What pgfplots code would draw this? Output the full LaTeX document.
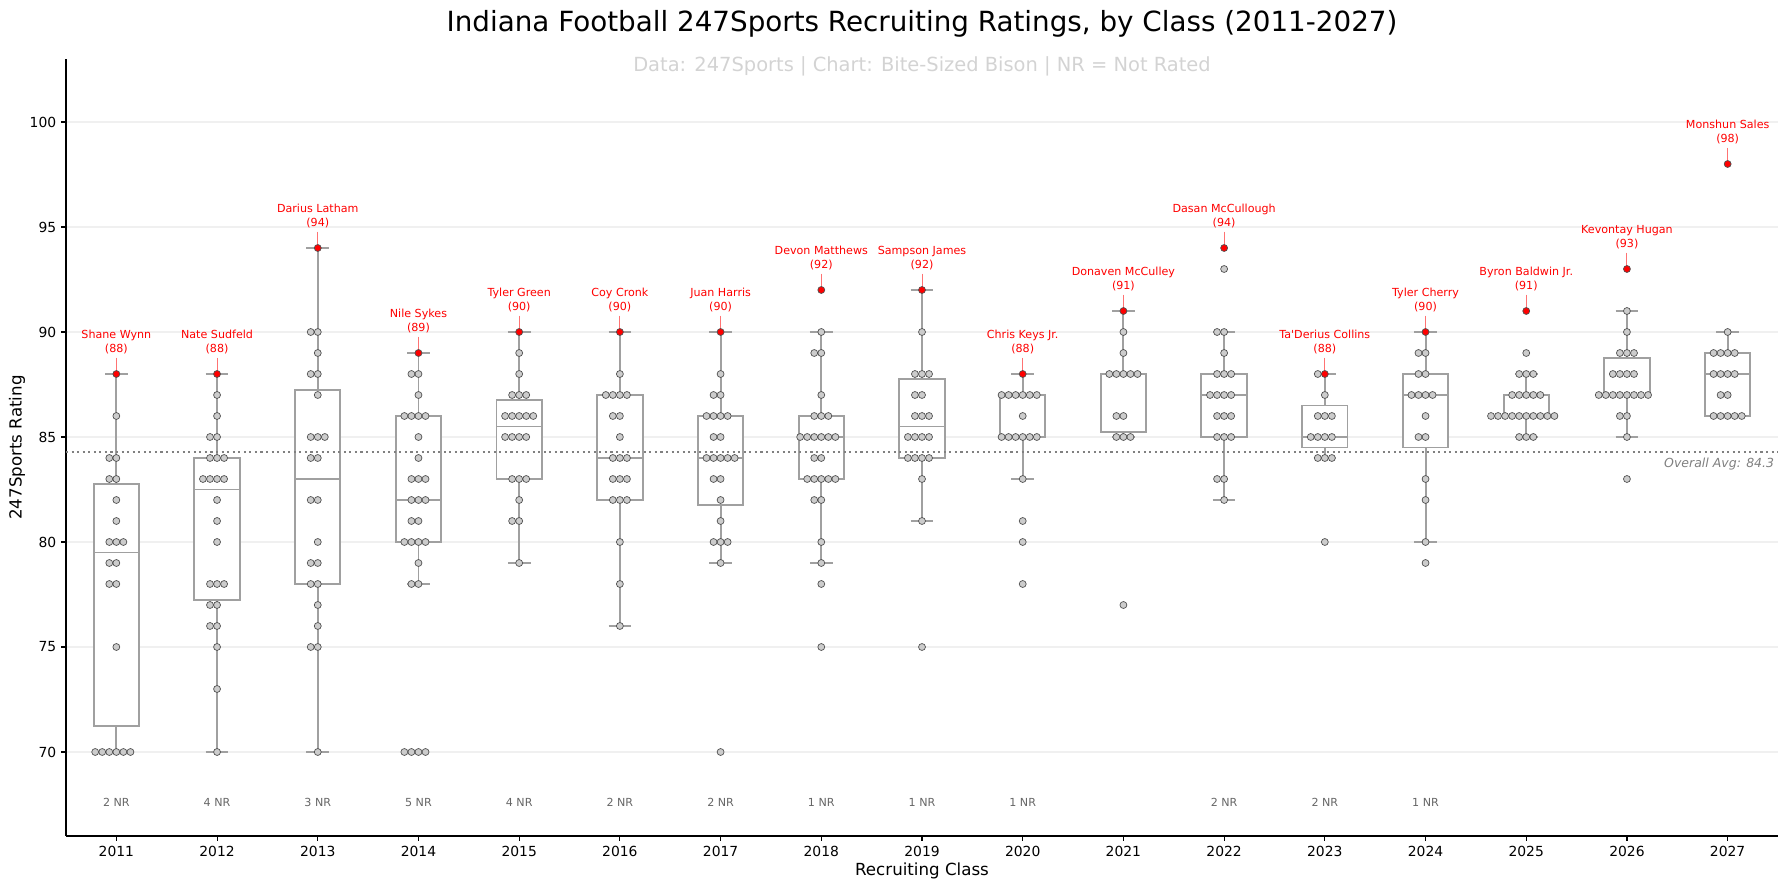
\documentclass[border=0pt]{standalone}
\usepackage{fontspec}
\setmainfont{DejaVu Sans}
\usepackage{pgfplots}
\pgfplotsset{compat=1.18}
\definecolor{boxgray}{HTML}{A0A0A0}
\definecolor{ptfill}{HTML}{CCCCCC}
\definecolor{ptedge}{HTML}{505050}
\definecolor{gridc}{HTML}{F0F0F0}
\definecolor{avgc}{HTML}{808080}
\definecolor{subc}{HTML}{D3D3D3}
\definecolor{nrc}{HTML}{666666}
% box: left, right, Q1, Q3
\newcommand{\boxr}[4]{\addplot[draw=boxgray, fill=white, line width=1.4pt, line join=miter] coordinates {(#1,#3) (#2,#3) (#2,#4) (#1,#4)} -- cycle;}
% median: left, right, median
\newcommand{\medl}[3]{\addplot[draw=boxgray, line width=1.4pt] coordinates {(#1,#3) (#2,#3)};}
% whiskers: x, cap left, cap right, lower whisker, Q1, Q3, upper whisker
\newcommand{\whisk}[7]{\addplot[draw=boxgray, line width=1.4pt, unbounded coords=jump] coordinates {(#1,#6) (#1,#7) (#1,nan) (#2,#7) (#3,#7) (#1,nan) (#1,#4) (#1,#5) (#1,nan) (#2,#4) (#3,#4)};}
\begin{document}
\begin{tikzpicture}
\useasboundingbox (-47.52pt,-38.16pt) rectangle (1240.56pt,601.92pt);
\begin{axis}[
 at={(0,0)}, anchor=south west,
 width=1232.64pt, height=559.44pt, scale only axis,
 xmin=-0.5, xmax=16.5, ymin=66, ymax=103,
 axis x line*=bottom, axis y line*=left,
 axis line style={line width=0.8pt, black},
 xtick={0,...,16},
 xticklabels={2011,2012,2013,2014,2015,2016,2017,2018,2019,2020,2021,2022,2023,2024,2025,2026,2027},
 ytick={70,75,80,85,90,95,100},
 tick align=outside, major tick length=3.5pt,
 tick style={line width=0.8pt, black},
 ymajorgrids, grid style={gridc, line width=0.8pt},
 tick label style={font=\fontsize{10}{12}\selectfont},
 /pgf/number format/assume math mode=true,
 xlabel={Recruiting Class}, ylabel={247Sports Rating},
 every axis x label/.style={at={(axis description cs:0.5,-0.045)}, anchor=center, font=\fontsize{12}{14.4}\selectfont},
 every axis y label/.style={at={(axis description cs:-0.0286,0.5)}, rotate=90, anchor=center, font=\fontsize{12}{14.4}\selectfont},
 clip=false,
]
% boxes
\boxr{-0.225}{0.225}{71.25}{82.75} \medl{-0.225}{0.225}{79.5} \whisk{0}{-0.1125}{0.1125}{70}{71.25}{82.75}{88}
\boxr{0.775}{1.225}{77.25}{84} \medl{0.775}{1.225}{82.5} \whisk{1}{0.8875}{1.1125}{70}{77.25}{84}{88}
\boxr{1.775}{2.225}{78}{87.25} \medl{1.775}{2.225}{83} \whisk{2}{1.8875}{2.1125}{70}{78}{87.25}{94}
\boxr{2.775}{3.225}{80}{86} \medl{2.775}{3.225}{82} \whisk{3}{2.8875}{3.1125}{78}{80}{86}{89}
\boxr{3.775}{4.225}{83}{86.75} \medl{3.775}{4.225}{85.5} \whisk{4}{3.8875}{4.1125}{79}{83}{86.75}{90}
\boxr{4.775}{5.225}{82}{87} \medl{4.775}{5.225}{84} \whisk{5}{4.8875}{5.1125}{76}{82}{87}{90}
\boxr{5.775}{6.225}{81.75}{86} \medl{5.775}{6.225}{84} \whisk{6}{5.8875}{6.1125}{79}{81.75}{86}{90}
\boxr{6.775}{7.225}{83}{86} \medl{6.775}{7.225}{85} \whisk{7}{6.8875}{7.1125}{79}{83}{86}{90}
\boxr{7.775}{8.225}{84}{87.75} \medl{7.775}{8.225}{85.5} \whisk{8}{7.8875}{8.1125}{81}{84}{87.75}{92}
\boxr{8.775}{9.225}{85}{87} \medl{8.775}{9.225}{85} \whisk{9}{8.8875}{9.1125}{83}{85}{87}{88}
\boxr{9.775}{10.225}{85.25}{88} \medl{9.775}{10.225}{88} \whisk{10}{9.8875}{10.1125}{85}{85.25}{88}{91}
\boxr{10.775}{11.225}{85}{88} \medl{10.775}{11.225}{87} \whisk{11}{10.8875}{11.1125}{82}{85}{88}{90}
\boxr{11.775}{12.225}{84.5}{86.5} \medl{11.775}{12.225}{85} \whisk{12}{11.8875}{12.1125}{84}{84.5}{86.5}{88}
\boxr{12.775}{13.225}{84.5}{88} \medl{12.775}{13.225}{87} \whisk{13}{12.8875}{13.1125}{80}{84.5}{88}{90}
\boxr{13.775}{14.225}{86}{87} \medl{13.775}{14.225}{86} \whisk{14}{13.8875}{14.1125}{85}{86}{87}{88}
\boxr{14.775}{15.225}{87}{88.75} \medl{14.775}{15.225}{87} \whisk{15}{14.8875}{15.1125}{85}{87}{88.75}{91}
\boxr{15.775}{16.225}{86}{89} \medl{15.775}{16.225}{88} \whisk{16}{15.8875}{16.1125}{86}{86}{89}{90}
% overall average
\addplot[avgc, line width=1.5pt, dash pattern=on 1.5pt off 2.5pt] coordinates {(-0.5,84.3) (16.5,84.3)};
% swarm points
\addplot[only marks, mark=*, mark size=2.5pt, mark options={fill=ptfill, draw=ptedge, line width=0.5pt}] coordinates {
(0,86) (0,84) (-0.07,84) (0,83) (-0.07,83) (0,82) (0,81) (0,80) (-0.07,80) (0.07,80) (0,79) (-0.07,79) (0,78) (-0.07,78) (0,75)
(0,70) (-0.07,70) (0.07,70) (-0.14,70) (0.14,70) (-0.21,70)
(1,87) (1,86) (1,85) (0.93,85) (1,84) (0.93,84) (1.07,84) (1,83) (0.93,83) (1.07,83) (0.86,83) (1,82) (1,81) (1,80)
(1,78) (0.93,78) (1.07,78) (1,77) (0.93,77) (1,76) (0.93,76) (1,75) (1,73) (1,70)
(2,90) (1.93,90) (2,89) (2,88) (1.93,88) (2,87) (2,85) (1.93,85) (2.07,85) (2,84) (1.93,84) (2,82) (1.93,82) (2,80)
(2,79) (1.93,79) (2,78) (1.93,78) (2,77) (2,76) (2,75) (1.93,75) (2,70)
(3,88) (2.93,88) (3,87) (3,86) (2.93,86) (3.07,86) (2.86,86) (3,85) (3,84) (3,83) (2.93,83) (3.07,83)
(3,82) (2.93,82) (3.07,82) (3,81) (2.93,81) (3,80) (2.93,80) (3.07,80) (2.86,80) (3,79) (3,78) (2.93,78)
(3,70) (2.93,70) (3.07,70) (2.86,70)
(4,89) (4,88) (4,87) (3.93,87) (4.07,87) (4,86) (3.93,86) (4.07,86) (3.86,86) (4.14,86) (4,85) (3.93,85) (4.07,85) (3.86,85)
(4,83) (3.93,83) (4.07,83) (4,82) (4,81) (3.93,81) (4,79)
(5,88) (5,87) (4.93,87) (5.07,87) (4.86,87) (5,86) (4.93,86) (5,85) (5,84) (4.93,84) (5.07,84) (5,83) (4.93,83) (5.07,83)
(5,82) (4.93,82) (5.07,82) (5,80) (5,78) (5,76)
(6,88) (6,87) (5.93,87) (6,86) (5.93,86) (6.07,86) (5.86,86) (6,85) (5.93,85) (6,84) (5.93,84) (6.07,84) (5.86,84) (6.14,84)
(6,83) (5.93,83) (6,82) (6,81) (6,80) (5.93,80) (6.07,80) (6,79) (6,70)
(7,90) (7,89) (6.93,89) (7,87) (7,86) (6.93,86) (7.07,86) (7,85) (6.93,85) (7.07,85) (6.86,85) (7.14,85) (6.79,85)
(7,84) (6.93,84) (7,83) (6.93,83) (7.07,83) (6.86,83) (7.14,83) (7,82) (6.93,82) (7,80) (7,79) (7,78) (7,75)
(8,90) (8,88) (7.93,88) (8.07,88) (8,87) (7.93,87) (8,86) (7.93,86) (8.07,86) (8,85) (7.93,85) (8.07,85) (7.86,85)
(8,84) (7.93,84) (8.07,84) (7.86,84) (8,83) (8,81) (8,75)
(9,87) (8.93,87) (9.07,87) (8.86,87) (9.14,87) (8.79,87) (9,86) (9,85) (8.93,85) (9.07,85) (8.86,85) (9.14,85) (8.79,85)
(9,83) (9,81) (9,80) (9,78)
(10,90) (10,89) (10,88) (9.93,88) (10.07,88) (9.86,88) (10.14,88) (10,86) (9.93,86) (10,85) (9.93,85) (10.07,85) (10,77)
(11,93) (11,90) (10.93,90) (11,89) (11,88) (10.93,88) (11.07,88) (11,87) (10.93,87) (11.07,87) (10.86,87)
(11,86) (10.93,86) (11.07,86) (11,85) (10.93,85) (11.07,85) (11,83) (10.93,83) (11,82)
(11.93,88) (12,87) (12,86) (11.93,86) (12.07,86) (12,85) (11.93,85) (12.07,85) (11.86,85) (12,84) (11.93,84) (12.07,84) (12,80)
(13,89) (12.93,89) (13,88) (12.93,88) (13,87) (12.93,87) (13.07,87) (12.86,87) (13,86) (13,85) (12.93,85) (13,83) (13,82) (13,80) (13,79)
(14,89) (14,88) (13.93,88) (14.07,88) (14,87) (13.93,87) (14.07,87) (13.86,87) (14.14,87)
(14,86) (13.93,86) (14.07,86) (13.86,86) (14.14,86) (13.79,86) (14.21,86) (13.72,86) (14.28,86) (13.65,86)
(14,85) (13.93,85) (14.07,85)
(15,91) (15,90) (15,89) (14.93,89) (15.07,89) (15,88) (14.93,88) (15.07,88) (14.86,88)
(15,87) (14.93,87) (15.07,87) (14.86,87) (15.14,87) (14.79,87) (15.21,87) (14.72,87) (15,86) (14.93,86) (15,85) (15,83)
(16,90) (16,89) (15.93,89) (16.07,89) (15.86,89) (16,88) (15.93,88) (16.07,88) (15.86,88) (16,87) (15.93,87)
(16,86) (15.93,86) (16.07,86) (15.86,86) (16.14,86)
};
% top recruits
\addplot[only marks, mark=*, mark size=2.5pt, mark options={fill=red, draw=ptedge, line width=0.5pt}] coordinates {
(0,88) (1,88) (2,94) (3,89) (4,90) (5,90) (6,90) (7,92) (8,92) (9,88) (10,91) (11,94) (12,88) (13,90) (14,91) (15,93) (16,98)
};
% annotations
\tikzset{ann/.style={anchor=south, inner sep=0pt, align=center, text=red, font=\fontsize{8}{9.6}\selectfont}, annl/.style={red!55, line width=0.7pt}}
\node[ann] at (axis cs:0,88.95) {Shane Wynn\\(88)};
\draw[annl] (axis cs:0,88.78) -- (axis cs:0,88.15);
\node[ann] at (axis cs:1,88.95) {Nate Sudfeld\\(88)};
\draw[annl] (axis cs:1,88.78) -- (axis cs:1,88.15);
\node[ann] at (axis cs:2,94.95) {Darius Latham\\(94)};
\draw[annl] (axis cs:2,94.78) -- (axis cs:2,94.15);
\node[ann] at (axis cs:3,89.95) {Nile Sykes\\(89)};
\draw[annl] (axis cs:3,89.78) -- (axis cs:3,89.15);
\node[ann] at (axis cs:4,90.95) {Tyler Green\\(90)};
\draw[annl] (axis cs:4,90.78) -- (axis cs:4,90.15);
\node[ann] at (axis cs:5,90.95) {Coy Cronk\\(90)};
\draw[annl] (axis cs:5,90.78) -- (axis cs:5,90.15);
\node[ann] at (axis cs:6,90.95) {Juan Harris\\(90)};
\draw[annl] (axis cs:6,90.78) -- (axis cs:6,90.15);
\node[ann] at (axis cs:7,92.95) {Devon Matthews\\(92)};
\draw[annl] (axis cs:7,92.78) -- (axis cs:7,92.15);
\node[ann] at (axis cs:8,92.95) {Sampson James\\(92)};
\draw[annl] (axis cs:8,92.78) -- (axis cs:8,92.15);
\node[ann] at (axis cs:9,88.95) {Chris Keys Jr.\\(88)};
\draw[annl] (axis cs:9,88.78) -- (axis cs:9,88.15);
\node[ann] at (axis cs:10,91.95) {Donaven McCulley\\(91)};
\draw[annl] (axis cs:10,91.78) -- (axis cs:10,91.15);
\node[ann] at (axis cs:11,94.95) {Dasan McCullough\\(94)};
\draw[annl] (axis cs:11,94.78) -- (axis cs:11,94.15);
\node[ann] at (axis cs:12,88.95) {Ta\textquotesingle Derius Collins\\(88)};
\draw[annl] (axis cs:12,88.78) -- (axis cs:12,88.15);
\node[ann] at (axis cs:13,90.95) {Tyler Cherry\\(90)};
\draw[annl] (axis cs:13,90.78) -- (axis cs:13,90.15);
\node[ann] at (axis cs:14,91.95) {Byron Baldwin Jr.\\(91)};
\draw[annl] (axis cs:14,91.78) -- (axis cs:14,91.15);
\node[ann] at (axis cs:15,93.95) {Kevontay Hugan\\(93)};
\draw[annl] (axis cs:15,93.78) -- (axis cs:15,93.15);
\node[ann] at (axis cs:16,98.95) {Monshun Sales\\(98)};
\draw[annl] (axis cs:16,98.78) -- (axis cs:16,98.15);
% NR counts
\tikzset{nr/.style={text=nrc, font=\fontsize{8}{9.6}\selectfont, anchor=center}}
\node[nr] at (axis cs:0,67.6) {2 NR};
\node[nr] at (axis cs:1,67.6) {4 NR};
\node[nr] at (axis cs:2,67.6) {3 NR};
\node[nr] at (axis cs:3,67.6) {5 NR};
\node[nr] at (axis cs:4,67.6) {4 NR};
\node[nr] at (axis cs:5,67.6) {2 NR};
\node[nr] at (axis cs:6,67.6) {2 NR};
\node[nr] at (axis cs:7,67.6) {1 NR};
\node[nr] at (axis cs:8,67.6) {1 NR};
\node[nr] at (axis cs:9,67.6) {1 NR};
\node[nr] at (axis cs:11,67.6) {2 NR};
\node[nr] at (axis cs:12,67.6) {2 NR};
\node[nr] at (axis cs:13,67.6) {1 NR};
\node[anchor=east, text=avgc, font=\itshape\fontsize{9}{11}\selectfont] at (axis cs:16.51,83.72) {Overall Avg: 84.3};
\node[font=\fontsize{20}{24}\selectfont] at (axis description cs:0.5,1.045) {Indiana Football 247Sports Recruiting Ratings, by Class (2011-2027)};
\node[font=\fontsize{14}{17}\selectfont, text=subc] at (axis description cs:0.5,0.990) {Data: 247Sports | Chart: Bite-Sized Bison | NR = Not Rated};
\end{axis}
\end{tikzpicture}
\end{document}
